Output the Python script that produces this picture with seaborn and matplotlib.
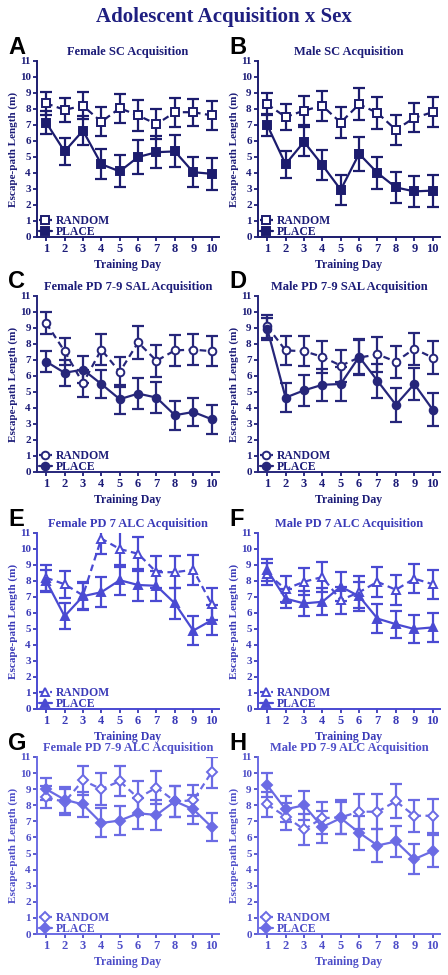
#!/usr/bin/env python3

import matplotlib
matplotlib.use("Agg")
import matplotlib.pyplot as plt
import numpy as np
import pandas as pd
import seaborn as sns

days = list(range(1, 11))

titles = ['Female SC Acquisition', 'Male SC Acquisition',
          'Female PD 7-9 SAL Acquisition', 'Male PD 7-9 SAL Acquisition',
          'Female PD 7 ALC Acquisition', 'Male PD 7 ALC Acquisition',
          'Female PD 7-9 ALC Acquisition', 'Male PD 7-9 ALC Acquisition']
letters = ['A', 'B', 'C', 'D', 'E', 'F', 'G', 'H']

# mean escape-path length (m) and SEM, per panel
random_mean = [
    [8.35, 7.95, 8.2, 7.2, 8.05, 7.6, 7.05, 7.8, 7.8, 7.6],
    [8.3, 7.5, 7.9, 8.2, 7.15, 8.3, 7.75, 6.7, 7.45, 7.8],
    [9.3, 7.55, 5.55, 7.65, 6.25, 8.1, 6.95, 7.6, 7.65, 7.55],
    [9.1, 7.6, 7.55, 7.2, 6.65, 7.15, 7.35, 6.9, 7.7, 7.15],
    [8.2, 7.8, 7.1, 10.65, 10.0, 9.7, 8.55, 8.55, 8.7, 6.55],
    [8.45, 7.5, 7.95, 8.25, 6.8, 7.3, 7.95, 7.45, 8.15, 7.8],
    [8.5, 8.2, 9.55, 9.0, 9.5, 8.45, 9.1, 8.25, 8.3, 10.05],
    [8.05, 7.3, 6.5, 7.2, 7.25, 7.6, 7.6, 8.25, 7.35, 7.35],
]
random_sem = [
    [0.7, 0.75, 0.85, 0.9, 0.9, 0.95, 0.95, 0.9, 0.85, 0.9],
    [0.7, 0.8, 0.9, 0.95, 0.95, 1.0, 1.0, 0.95, 0.9, 0.95],
    [0.7, 0.85, 0.85, 0.95, 0.95, 1.05, 1.0, 0.95, 0.95, 0.95],
    [0.7, 0.9, 0.95, 1.0, 1.0, 1.1, 1.1, 1.0, 1.0, 1.05],
    [0.8, 0.85, 0.85, 0.95, 1.1, 1.05, 1.0, 1.0, 0.95, 1.0],
    [0.7, 0.8, 0.85, 0.95, 0.85, 1.0, 0.95, 0.95, 0.9, 0.9],
    [0.7, 0.8, 0.9, 1.0, 0.95, 1.05, 1.0, 0.95, 0.95, 0.95],
    [0.8, 0.85, 0.95, 1.0, 1.05, 1.1, 1.1, 1.05, 1.0, 1.05],
]
place_mean = [
    [7.15, 5.35, 6.65, 4.55, 4.1, 5.0, 5.3, 5.35, 4.05, 3.95],
    [7.0, 4.55, 5.95, 4.5, 2.95, 5.2, 4.0, 3.1, 2.85, 2.9],
    [6.9, 6.2, 6.4, 5.5, 4.55, 4.9, 4.65, 3.55, 3.75, 3.3],
    [8.95, 4.65, 5.1, 5.45, 5.5, 7.2, 5.7, 4.2, 5.5, 3.9],
    [8.0, 5.8, 7.05, 7.3, 8.05, 7.75, 7.7, 6.6, 4.9, 5.55],
    [8.7, 6.9, 6.6, 6.7, 7.65, 7.05, 5.65, 5.3, 5.0, 5.1],
    [9.0, 8.35, 8.05, 6.9, 7.05, 7.5, 7.4, 8.25, 7.75, 6.65],
    [9.25, 7.75, 8.0, 6.65, 7.2, 6.3, 5.5, 5.75, 4.65, 5.15],
]
place_sem = [
    [0.7, 0.85, 0.9, 0.95, 1.0, 1.05, 1.0, 1.0, 0.95, 1.0],
    [0.7, 0.85, 0.9, 0.95, 0.95, 1.05, 1.0, 0.95, 0.95, 1.0],
    [0.65, 0.8, 0.85, 0.9, 0.9, 0.95, 0.95, 0.9, 0.9, 0.9],
    [0.7, 0.9, 0.95, 1.0, 1.05, 1.1, 1.05, 1.05, 1.0, 1.05],
    [0.7, 0.8, 0.85, 0.95, 0.95, 1.0, 0.95, 0.95, 0.9, 0.95],
    [0.7, 0.6, 0.8, 0.85, 0.9, 0.9, 0.9, 0.85, 0.85, 0.9],
    [0.7, 0.8, 0.8, 0.9, 0.9, 0.95, 0.95, 0.95, 0.9, 0.9],
    [0.75, 0.8, 0.9, 1.0, 1.0, 1.05, 1.0, 0.95, 0.95, 1.0],
]

markers = ['s', 's', 'o', 'o', '^', '^', 'D', 'D']
line_colors = ['#1c1c6e', '#1c1c6e', '#26267a', '#26267a',
               '#4a4ad2', '#4a4ad2', '#6b6be4', '#6b6be4']
text_colors = ['#1c1c78', '#1c1c78', '#1c1c78', '#1c1c78',
               '#3a3ab8', '#3a3ab8', '#4e4ec8', '#4e4ec8']

sns.set_style("ticks")
plt.rcParams['font.family'] = ['Liberation Serif', 'DejaVu Serif']
plt.rcParams['font.weight'] = 'bold'

W, H = 448, 975
fig = plt.figure(figsize=(W / 100, H / 100), dpi=100)
fig.text(0.5, 1 - 17 / H, 'Adolescent Acquisition x Sex', ha='center', va='center',
         fontsize=15, fontweight='bold', color='#1f1f80')

col_x = [(37, 219), (258, 440)]
row_y = [(61, 237), (296, 472), (533, 709), (757, 934)]

for i in range(8):
    r, c = divmod(i, 2)
    x0, x1 = col_x[c]
    yt, yb = row_y[r]
    ax = fig.add_axes([x0 / W, 1 - yb / H, (x1 - x0) / W, (yb - yt) / H])
    lc = line_colors[i]
    tc = text_colors[i]
    df = pd.DataFrame({'day': days * 2,
                       'length': random_mean[i] + place_mean[i],
                       'sem': random_sem[i] + place_sem[i],
                       'group': ['RANDOM'] * 10 + ['PLACE'] * 10})
    ms = 5.5 if markers[i] != 'D' else 4.7
    for grp, ls, mfc in [('RANDOM', (0, (3, 2)), 'white'), ('PLACE', '-', lc)]:
        d = df[df['group'] == grp]
        ax.errorbar(d['day'], d['length'], yerr=d['sem'], fmt='none', ecolor=lc,
                    elinewidth=1.6, capsize=4, capthick=1.6, zorder=2)
        sns.lineplot(x=d['day'], y=d['length'], ax=ax, color=lc, linestyle=ls,
                     linewidth=1.6, marker=markers[i], markersize=ms,
                     markerfacecolor=mfc, markeredgecolor=lc, markeredgewidth=1.4,
                     label=grp, zorder=3)
    ax.set_xlim(0.5, 10.4)
    ax.set_ylim(0, 11)
    ax.set_xticks(days)
    ax.set_yticks(range(0, 12))
    sns.despine(ax=ax)
    for s in ['left', 'bottom']:
        ax.spines[s].set_color(lc)
        ax.spines[s].set_linewidth(1.4)
    ax.tick_params(colors=tc, length=3, width=1.3, pad=1.5)
    ax.tick_params(axis='x', labelsize=9)
    ax.tick_params(axis='y', labelsize=8)
    for lab in ax.get_xticklabels() + ax.get_yticklabels():
        lab.set_fontweight('bold')
    ax.set_title(titles[i], fontsize=9, fontweight='bold', color=tc, pad=4)
    ax.set_xlabel('Training Day', fontsize=8.5, fontweight='bold', color=tc, labelpad=3)
    ax.set_ylabel('Escape-path Length (m)', fontsize=8, fontweight='bold', color=tc, labelpad=1)
    leg = ax.legend(loc='lower left', bbox_to_anchor=(-0.03, -0.045), frameon=False,
                    fontsize=8.5, handlelength=1.1, handletextpad=0.35,
                    labelspacing=-0.1, borderaxespad=0.2)
    for t in leg.get_texts():
        t.set_color(tc)
        t.set_fontweight('bold')
    fig.text((x0 - 29) / W, 1 - (yt - 14) / H, letters[i], ha='left', va='center',
             fontsize=17, fontweight='bold', color='black', family='Liberation Sans')

fig.savefig('out.png', dpi=100, facecolor='white')
